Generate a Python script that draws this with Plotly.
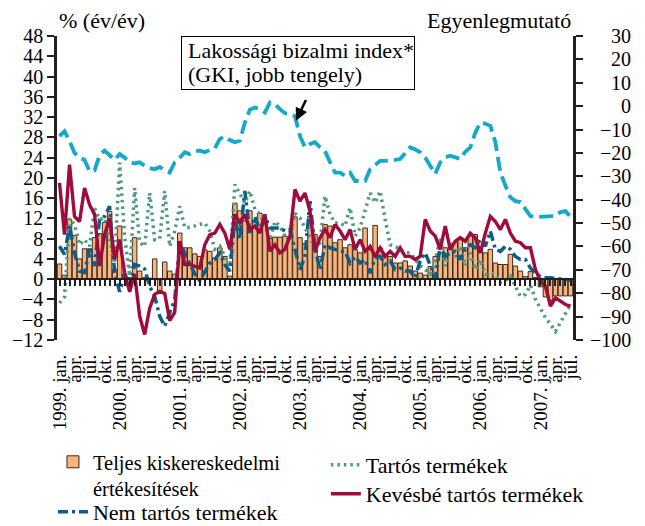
import plotly.graph_objects as go

# ---- categories (monthly, 1999 jan - 2007 jul) ----
years = list(range(1999, 2008))
months = [f"{y}-{m:02d}" for y in years for m in range(1, 13)][:103]

month_names = ["jan.", "ápr.", "júl.", "okt."]
tick_labels = []
for y in years:
    for k, mn in enumerate(month_names):
        tick_labels.append(f"{y}. {mn}" if k == 0 else mn)
tick_labels = tick_labels[:35]
tick_vals = months[0::3]

# ---- series (% year/year) ----
teljes = [3.0, 0.8, 11.8, 8.6, 4.0, 6.0, 6.0, 8.2, 9.0, 11.2,
          13.4, 2.0, 10.5, 1.0, 0.3, 8.2, 1.6, 0.3, 0.2, 4.0,
          -2.8, 3.4, 1.6, 1.0, 9.1, 6.2, 6.2, 5.0, 4.5, 5.8,
          5.5, 4.2, 6.2, 4.5, 0.6, 15.0, 13.5, 11.5, 13.5, 11.5,
          13.0, 11.5, 8.0, 8.3, 8.3, 8.5, 8.2, 12.3, 8.2, 7.0,
          12.4, 8.8, 4.5, 10.8, 10.5, 7.2, 7.8, 6.2, 6.8, 5.8,
          5.2, 10.1, 5.8, 10.6, 6.2, 4.5, 4.5, 3.2, 3.2, 3.6,
          2.6, 1.6, 1.2, 0.8, 2.5, 4.5, 5.2, 6.2, 5.9, 7.2,
          7.8, 6.2, 8.5, 8.8, 6.2, 5.2, 5.9, 3.2, 2.9, 2.9,
          4.9, 2.6, 1.6, 0.5, 1.5, 0.3, -1.5, -3.5, -4.2, -3.3,
          -3.3, -3.3, -3.3]

tartos = [-4.7, -3.5, 12, 10.8, 6.8, 7.8, 6.5, 14, 11.8, 12.1,
          8.2, 3.2, 23, 8.5, 0.6, 18, 7.2, 6.5, 17, 7.8,
          8, 17.4, 6.5, 9.5, 14.4, 10.2, 10.2, 10.5, 10.8, 11.1,
          9.5, 5.9, 6.5, 4.6, 2.5, 18.7, 17, 15, 17.4, 13.8,
          12.8, 10.8, 7.8, 11.4, 10.5, 8.5, 8.2, 13, 12.1, 10.1,
          8.2, 6.2, 7.2, 16.4, 12.8, 11.1, 11.1, 10.5, 14.1, 8.5,
          10.1, 13.4, 17, 15.1, 17.4, 11.8, 6.8, 6.5, 5.9, 5.2,
          5.2, 3.9, 2.6, 1.9, 1.0, 3.5, 8.2, 2.6, 7.2, 3.9,
          6.5, 2.6, 5.2, 1.9, 3.9, 0.9, 1.2, 1.0, -0.7, -0.3,
          0.6, -1.4, -3.4, -3.0, -1.2, -3.9, -5.9, -7.6, -8.9, -10.3,
          -8.5, -6.6, -5.0]

nem_tartos = [6.5, 4.9, 10.5, 5.2, 1.6, 1.3, 5.9, 2.6, 11.8, 12.4,
              14.4, 1.3, -2.5, 0.9, -2.0, 2.9, 2.6, 2.0, -1.4, -3.4,
              -7.3, -9.3, -6.6, -4.0, 7.2, 5.2, 3.2, 1.0, -0.3, 1.3,
              3.2, 3.9, 5.2, 2.9, 1.6, 11.8, 8.0, 17.4, 9.1, 12.4,
              9.5, 12.4, 10.1, 10.1, 10.1, 9.5, 9.8, 5.9, 1.9, 4.5,
              15.4, 6.0, 1.9, 6.8, 6.2, 5.9, 5.5, 5.5, 3.2, 4.5,
              3.2, 3.9, 1.2, 4.2, 4.5, 2.9, 3.6, 1.9, 2.2, 1.6,
              1.6, 0.3, 3.6, 5.2, 2.6, 0.3, 6.5, 4.5, 5.2, 5.5,
              3.9, 5.9, 6.8, 6.2, 7.8, 6.5, 9.5, 5.9, 5.5, 6.5,
              5.9, 4.5, 3.9, 3.9, 2.2, 1.2, 0.5, 0.3, 0.3, 0.2,
              0.0, -0.1, -0.2]

kevesbe = [19, 8.8, 22.6, 12.4, 11.4, 18, 14.7, 12.8, 2.6, 8.8,
           12.1, 3.9, 7.8, 1.3, -2.5, 1.0, -7.3, -10.9, -5.7, -3.0,
           -2.4, -2.8, -8.2, -6.5, 7.5, 2.9, 2.9, 2.6, 2.2, 6.8,
           8.8, 9.1, 10.8, 9.1, 5.9, 12.8, 11.1, 12.8, 9.8, 10.5,
           9.1, 12.8, 5.5, 6.8, 5.2, 5.9, 8.5, 17.7, 15.4, 17,
           13.4, 5.5, 8.2, 9.8, 8.2, 10.8, 9.5, 7.8, 9.8, 5.9,
           7.8, 5.5, 6.5, 4.5, 6.2, 4.5, 5.5, 4.5, 6.2, 4.5,
           4.5, 3.9, 4.5, 11.8, 9.5, 8.5, 5.9, 10.5, 5.9, 7.5,
           8.2, 7.5, 9.1, 8.2, 5.2, 9.1, 12.4, 11.4, 9.8, 11.8,
           9.1, 7.5, 7.2, 6.2, 6.2, 1.9, -0.4, -1.4, -5.3, -3.7,
           -4.3, -5.0, -5.3]

# ---- GKI consumer confidence (balance, right axis) ----
gki = [-12.8, -10.7, -15, -20, -22, -23, -27.8, -27.5, -21, -19,
       -21, -23, -20.5, -22, -24, -24.5, -24, -25.5, -26.5, -27,
       -26, -27.5, -28.4, -24, -22, -19.7, -20.5, -19.5, -19, -19.7,
       -18.8, -18, -14, -13, -14.5, -15.4, -14.8, -7, -1.5, -0.6,
       -1.3, -2.7, 1.5, 0.8, -1.3, -3.0, -3.4, -4.3, -12.8, -17.6,
       -16.2, -15.4, -17.6, -19.2, -24, -28.4, -28.4, -29.8, -28.4, -32,
       -32, -32, -27, -25, -23.4, -23.4, -23.4, -23, -22.6, -20,
       -17.6, -18.5, -19.7, -22, -25.5, -29, -24, -21.9, -21.2, -22,
       -22.6, -19.5, -17.6, -11.3, -7, -7.5, -8.4, -15.4, -28.4, -34,
       -39, -40.6, -41, -44, -47, -47.4, -47.4, -47.4, -47.2, -47,
       -45.3, -44.9, -47.4]

left_range = [-12, 48]
right_range = [-100, 30]
right_ticks = [30, 20, 10, 0, -10, -20, -30, -40, -50, -60, -70, -80, -90, -100]

SERIF = "Liberation Serif"
FS = 20
LFS = 22
W, H = 637, 518   # page body adds an 8px offset

fig = go.Figure()
fig.add_trace(go.Bar(
    x=months, y=teljes, name="Teljes kiskereskedelmi<br>értékesítések",
    marker=dict(color="#F9B47B", line=dict(color="#3a2a22", width=1)),
    legend="legend", xaxis="x", yaxis="y"))
fig.add_trace(go.Scatter(
    x=months, y=tartos, name="Tartós termékek", mode="lines",
    line=dict(color="#4F9A7C", width=3.5, dash="2.5px,4px"),
    legend="legend2", xaxis="x", yaxis="y"))
fig.add_trace(go.Scatter(
    x=months, y=nem_tartos, name="Nem tartós termékek", mode="lines",
    line=dict(color="#0B5D8A", width=3.5, dash="10px,4px,3px,4px"),
    legend="legend3", xaxis="x", yaxis="y"))
fig.add_trace(go.Scatter(
    x=months, y=kevesbe, name="Kevésbé tartós termékek", mode="lines",
    line=dict(color="#9E0B3C", width=3.4),
    legend="legend4", xaxis="x", yaxis="y"))
fig.add_trace(go.Scatter(
    x=months, y=gki, name="GKI", mode="lines",
    line=dict(color="#12A9CC", width=3.8, dash="14px,6px"),
    showlegend=False, xaxis="x", yaxis="y2"))
# anchor trace for the comb axis at zero
fig.add_trace(go.Scatter(
    x=[0], y=[0], mode="markers", marker=dict(opacity=0),
    showlegend=False, hoverinfo="skip", xaxis="x2", yaxis="y"))

annotations = [
    dict(text="% (év/év)", xref="paper", yref="paper", x=0.0, y=1.05,
         xanchor="left", yanchor="middle", showarrow=False,
         font=dict(family=SERIF, size=LFS, color="black")),
    dict(text="Egyenlegmutató", xref="paper", yref="paper", x=1.0, y=1.05,
         xanchor="right", yanchor="middle", showarrow=False,
         font=dict(family=SERIF, size=LFS, color="black")),
    # callout box
    dict(text=" ", xref="paper", yref="paper", x=0.4665, y=0.911,
         xanchor="center", yanchor="middle", showarrow=False,
         width=232, height=52, bgcolor="white", bordercolor="black",
         borderwidth=1, borderpad=0),
    dict(text="Lakossági bizalmi index*", xref="paper", yref="paper",
         x=0.25, y=0.9507, xanchor="left", yanchor="middle", showarrow=False,
         font=dict(family=SERIF, size=LFS, color="black")),
    dict(text="(GKI, jobb tengely)", xref="paper", yref="paper",
         x=0.25, y=0.875, xanchor="left", yanchor="middle", showarrow=False,
         font=dict(family=SERIF, size=LFS, color="black")),
    dict(text=" ", xref="x", yref="y2", x=47.2, y=-6.2, ax=14, ay=-29,
         showarrow=True, arrowhead=2, arrowsize=1, arrowwidth=2.5,
         arrowcolor="black"),
]
for v in right_ticks:
    annotations.append(dict(
        text=str(v).replace("-", "\u2212"), xref="paper", yref="y2",
        x=1.1163, y=v, xanchor="right", yanchor="middle", showarrow=False,
        font=dict(family=SERIF, size=FS, color="black")))

def leg(x, y, size=LFS):
    return dict(x=x, y=y, xref="container", yref="container", xanchor="left",
                yanchor="top", orientation="v", valign="top",
                bgcolor="rgba(0,0,0,0)", tracegroupgap=0, itemwidth=30,
                font=dict(family=SERIF, size=size, color="black"))

fig.update_layout(
    width=W, height=H,
    margin=dict(l=49, r=72, t=28, b=186, autoexpand=False),
    paper_bgcolor="white", plot_bgcolor="white",
    bargap=0.1,
    font=dict(family=SERIF, size=FS, color="black"),
    xaxis=dict(type="category", categoryorder="array", categoryarray=months,
               range=[-0.5, 102.5], showline=False, showgrid=False,
               zeroline=False, ticks="", tickmode="array", automargin=False,
               tickvals=tick_vals, ticktext=tick_labels, tickangle=-90,
               ticklabelstandoff=10,
               tickfont=dict(family=SERIF, size=19, color="black")),
    xaxis2=dict(overlaying="x", anchor="free", position=0.2, side="bottom",
                range=[-0.5, 102.5], showline=True, linecolor="#231f20",
                linewidth=2, ticks="outside", ticklen=6, tickwidth=1.5,
                tickcolor="#231f20", tickmode="linear", tick0=0, dtick=1,
                automargin=False,
                showticklabels=False, showgrid=False, zeroline=False),
    yaxis=dict(range=left_range, tickmode="linear", tick0=-12, dtick=4,
               showline=True, linecolor="#231f20", linewidth=2.5,
               ticks="outside", ticklen=7, tickwidth=2, tickcolor="#231f20",
               showgrid=False, zeroline=False, automargin=False,
               tickfont=dict(family=SERIF, size=FS, color="black")),
    yaxis2=dict(range=right_range, overlaying="y", side="right",
                tickmode="linear", tick0=-100, dtick=10, automargin=False,
                showline=True, linecolor="#231f20", linewidth=2.5,
                ticks="outside", ticklen=7, tickwidth=2, tickcolor="#231f20",
                showticklabels=False, showgrid=False, zeroline=False),
    legend=leg(0.0706, 0.1622, 20.5),
    legend3=leg(0.0706, 0.0679),
    legend2=leg(0.499, 0.1583),
    legend4=leg(0.499, 0.1023),
    annotations=annotations,
    showlegend=True,
)

fig.write_html("out.html")
